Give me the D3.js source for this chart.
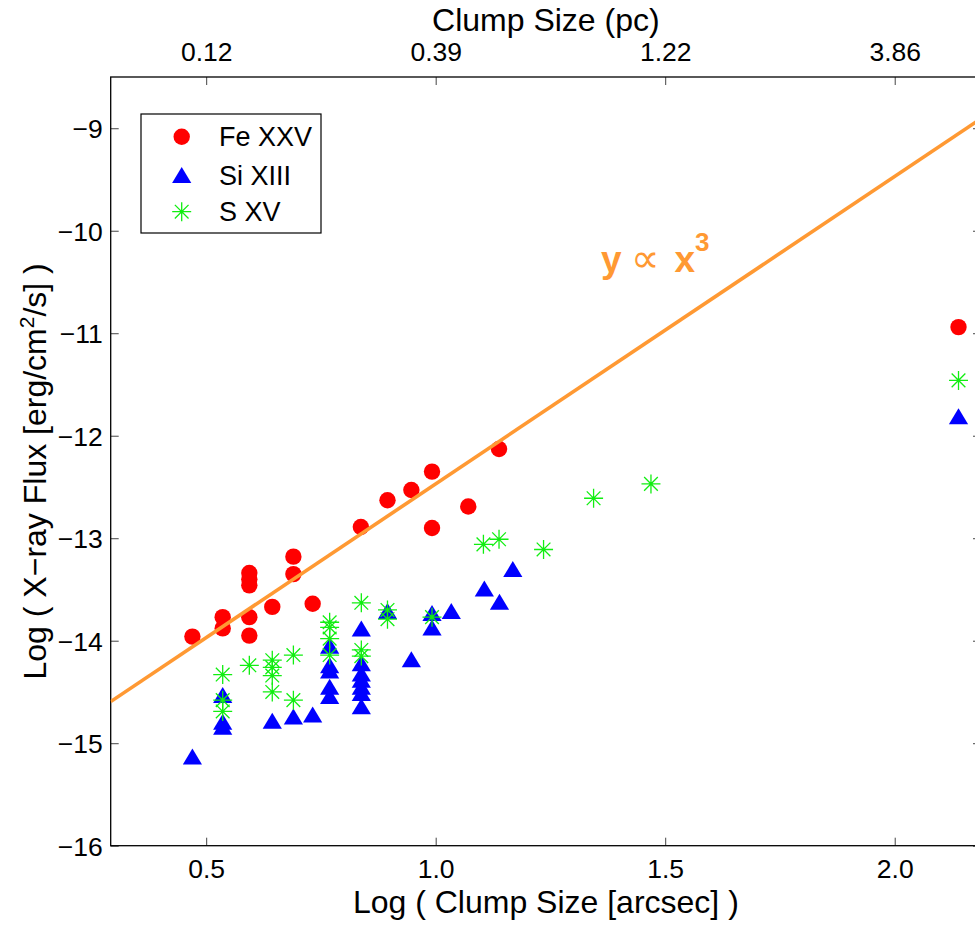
<!DOCTYPE html>
<html>
<head>
<meta charset="utf-8">
<script src="https://cdn.jsdelivr.net/npm/d3@7"></script>
<style>
  body { margin: 0; background: #fff; }
  text { font-family: "Liberation Sans", Arial, sans-serif; fill: #000; }
</style>
</head>
<body>
<div id="chart"></div>
<script>
// Data
const feLogSize = [0.470, 0.536, 0.536, 0.594, 0.594, 0.594, 0.594, 0.594, 0.644, 0.690, 0.690, 0.732, 0.837, 0.895, 0.947, 0.992, 0.992, 1.071, 1.138, 2.139]
const feLogFlux = [-13.96, -13.77, -13.88, -13.34, -13.40, -13.46, -13.77, -13.95, -13.67, -13.18, -13.35, -13.64, -12.89, -12.63, -12.53, -12.35, -12.90, -12.69, -12.13, -10.94]

const siLogSize = [0.470, 0.536, 0.536, 0.536, 0.644, 0.690, 0.732, 0.769, 0.769, 0.769, 0.769, 0.769, 0.838, 0.838, 0.838, 0.838, 0.838, 0.838, 0.838, 0.895, 0.947, 0.992, 0.992, 1.034, 1.106, 1.139, 1.168, 2.139]
const siLogFlux = [-15.13, -14.53, -14.79, -14.84, -14.78, -14.74, -14.72, -14.05, -14.24, -14.29, -14.45, -14.54, -13.88, -14.22, -14.32, -14.38, -14.45, -14.51, -14.64, -13.71, -14.18, -13.73, -13.87, -13.71, -13.49, -13.62, -13.30, -11.81]

const sLogSize = [0.536, 0.536, 0.536, 0.594, 0.644, 0.644, 0.644, 0.644, 0.690, 0.690, 0.769, 0.769, 0.769, 0.769, 0.838, 0.838, 0.838, 0.895, 0.895, 0.992, 1.104, 1.138, 1.235, 1.344, 1.469, 2.139]
const sLogFlux = [-14.33, -14.58, -14.69, -14.24, -14.19, -14.26, -14.34, -14.50, -14.14, -14.58, -13.82, -13.87, -13.98, -14.14, -13.63, -14.09, -14.15, -13.70, -13.79, -13.77, -13.06, -13.01, -13.11, -12.61, -12.47, -11.46]

const seriesNames = ["Fe XXV", "Si XIII", "S XV"]

const xTicks = [0.5, 1.0, 1.5, 2.0]
const xTickLabels = ["0.5", "1.0", "1.5", "2.0"]
const topTickLabels = ["0.12", "0.39", "1.22", "3.86"]
const yTicks = [-16, -15, -14, -13, -12, -11, -10, -9]

const xDomain = [0.292, 2.188]
const yDomain = [-16, -8.5]

// y proportional to x^3 line (in log space)
const fitSlope = 3
const fitIntercept = -15.47

const svgWidth = 975
const svgHeight = 925

let margin = { top: 77, right: -6, bottom: 79.3, left: 110.7 }
let width = svgWidth - margin.left - margin.right
let height = svgHeight - margin.top - margin.bottom

let svg = d3.select("#chart")
  .append("svg")
  .attr("width", svgWidth)
  .attr("height", svgHeight)

svg.append("defs").append("clipPath")
  .attr("id", "plotClip")
  .append("rect")
  .attr("width", width)
  .attr("height", height)

let g = svg.append("g")
  .attr("transform", `translate(${margin.left}, ${margin.top})`)

let x = d3.scaleLinear().domain(xDomain).range([0, width])
let y = d3.scaleLinear().domain(yDomain).range([height, 0])

// axes with inward ticks
const tickLen = 8
let bottomAxis = d3.axisBottom(x).tickValues(xTicks).tickSizeInner(-tickLen).tickSizeOuter(0)
  .tickPadding(13).tickFormat((d, i) => xTickLabels[i])
let topAxis = d3.axisTop(x).tickValues(xTicks).tickSizeInner(-tickLen).tickSizeOuter(0)
  .tickPadding(16).tickFormat((d, i) => topTickLabels[i])
let leftAxis = d3.axisLeft(y).tickValues(yTicks).tickSizeInner(-tickLen).tickSizeOuter(0)
  .tickPadding(8).tickFormat(d => "\u2212" + Math.abs(d))
let rightAxis = d3.axisRight(y).tickValues(yTicks).tickSizeInner(-tickLen).tickSizeOuter(0)
  .tickFormat("")

function styleAxis(sel) {
  sel.select(".domain").remove()
  sel.selectAll(".tick line").attr("stroke", "#444").attr("stroke-width", 1)
  sel.selectAll(".tick text")
    .style("font-size", "26.5px")
    .style("font-family", "'Liberation Sans', Arial, sans-serif")
    .attr("fill", "#000")
}

g.append("g").attr("transform", `translate(0, ${height})`).call(bottomAxis).call(styleAxis)
g.append("g").call(topAxis).call(styleAxis)
g.append("g").call(leftAxis).call(styleAxis)
  .selectAll(".tick text").attr("dy", "0.36em")
g.append("g").attr("transform", `translate(${width}, 0)`).call(rightAxis).call(styleAxis)

// box
g.append("rect")
  .attr("width", width)
  .attr("height", height)
  .attr("fill", "none")
  .attr("stroke", "#000")
  .attr("stroke-width", 1.3)

// axis titles
g.append("text")
  .attr("x", width / 2)
  .attr("y", height + 67)
  .attr("text-anchor", "middle")
  .style("font-size", "32px")
  .text("Log ( Clump Size [arcsec] )")

g.append("text")
  .attr("x", width / 2)
  .attr("y", -46)
  .attr("text-anchor", "middle")
  .style("font-size", "32px")
  .text("Clump Size (pc)")

let yLabel = g.append("text")
  .attr("transform", "rotate(-90)")
  .attr("x", -height / 2 - 10)
  .attr("y", -65)
  .attr("text-anchor", "middle")
  .style("font-size", "32px")
yLabel.append("tspan").text("Log ( X\u2212ray Flux [erg/cm")
yLabel.append("tspan").attr("dy", -12).style("font-size", "21px").text("2")
yLabel.append("tspan").attr("dy", 12).text("/s] )")

// markers
let plot = g.append("g").attr("clip-path", "url(#plotClip)")

const feData = feLogSize.map((d, i) => ({ x: d, y: feLogFlux[i] }))
const siData = siLogSize.map((d, i) => ({ x: d, y: siLogFlux[i] }))
const sData = sLogSize.map((d, i) => ({ x: d, y: sLogFlux[i] }))

const triPath = "M0,-8 L9.6,8 L-9.6,8 Z"
const starPath = (function() {
  const h = 9.5, k = h * 0.72
  return `M0,${-h}L0,${h}M${-h},0L${h},0M${-k},${-k}L${k},${k}M${-k},${k}L${k},${-k}`
})()

plot.selectAll("circle.fe")
  .data(feData)
  .enter()
  .append("circle")
  .attr("class", "fe")
  .attr("cx", d => x(d.x))
  .attr("cy", d => y(d.y))
  .attr("r", 8.2)
  .attr("fill", "#ff0000")

plot.selectAll("path.si")
  .data(siData)
  .enter()
  .append("path")
  .attr("class", "si")
  .attr("d", triPath)
  .attr("transform", d => `translate(${x(d.x)}, ${y(d.y)})`)
  .attr("fill", "#0000ff")

plot.selectAll("path.s")
  .data(sData)
  .enter()
  .append("path")
  .attr("class", "s")
  .attr("d", starPath)
  .attr("transform", d => `translate(${x(d.x)}, ${y(d.y)})`)
  .attr("fill", "none")
  .attr("stroke", "#11ee11")
  .attr("stroke-width", 1.3)

// fit line
let fitLine = d3.line().x(d => x(d)).y(d => y(fitSlope * d + fitIntercept))
plot.append("path")
  .datum(xDomain)
  .attr("d", fitLine)
  .attr("fill", "none")
  .attr("stroke", "#ff9933")
  .attr("stroke-width", 3.6)

let fitLabel = g.append("text")
  .attr("x", x(1.36))
  .attr("y", y(-10.40))
  .style("fill", "#ff9933")
  .style("font-size", "37px")
  .style("font-weight", "bold")
fitLabel.append("tspan").text("y")
fitLabel.append("tspan").attr("dx", 10).style("font-weight", "normal").style("font-size", "40px").text("\u221D")
fitLabel.append("tspan").attr("dx", 14).text("x")
fitLabel.append("tspan").attr("dy", -21).style("font-size", "26px").text("3")

// legend
let legend = g.append("g").attr("transform", `translate(${141 - margin.left}, ${114 - margin.top})`)
legend.append("rect")
  .attr("width", 180)
  .attr("height", 119)
  .attr("fill", "#fff")
  .attr("stroke", "#000")
  .attr("stroke-width", 1.2)

const legendRows = [22.7, 61, 97.7]
legend.append("circle").attr("cx", 40.7).attr("cy", legendRows[0]).attr("r", 8.2).attr("fill", "#ff0000")
legend.append("path").attr("d", triPath).attr("transform", `translate(40.7, ${legendRows[1]})`).attr("fill", "#0000ff")
legend.append("path").attr("d", starPath).attr("transform", `translate(40.7, ${legendRows[2]})`)
  .attr("fill", "none").attr("stroke", "#11ee11").attr("stroke-width", 1.3)

legend.selectAll("text.leg")
  .data(seriesNames)
  .enter()
  .append("text")
  .attr("class", "leg")
  .attr("x", 78)
  .attr("y", (d, i) => legendRows[i])
  .attr("dy", "0.36em")
  .style("font-size", "27px")
  .text(d => d)
</script>
</body>
</html>
